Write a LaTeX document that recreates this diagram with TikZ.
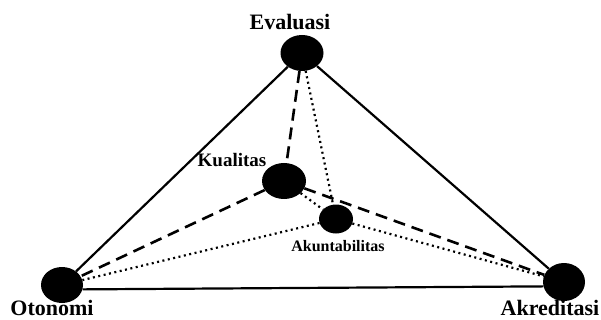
\documentclass[tikz,border=0pt]{standalone}
\usepackage{fontspec}
\setmainfont{Liberation Serif}
\usetikzlibrary{shapes.geometric}
\begin{document}
\begin{tikzpicture}[x=1pt,y=-1pt,
  dot/.style={ellipse, fill=black, inner sep=0pt},
  lbl/.style={font=\bfseries, inner sep=0pt},
  solidline/.style={line width=2.2pt},
  dashline/.style={line width=2.6pt, dash pattern=on 12pt off 7pt},
  dotline/.style={line width=2.2pt, dash pattern=on 2pt off 3.5pt}]
\useasboundingbox (0,0) rectangle (601,320);
\node[dot, minimum width=43pt, minimum height=36pt] (e) at (302,53) {};
\node[dot, minimum width=42pt, minimum height=36pt] (o) at (62,285) {};
\node[dot, minimum width=42pt, minimum height=38pt] (a) at (564,282) {};
\node[dot, minimum width=44pt, minimum height=36pt] (k) at (284,181) {};
\node[dot, minimum width=34pt, minimum height=29pt] (u) at (336,219) {};
% solid triangle
\draw[solidline] (e) -- (o);
\draw[solidline] (e) -- (a);
\draw[solidline] (o.-12) -- (a.-168);
% dashed
\draw[dashline] (e) -- (k);
\draw[dashline] (k) -- (o);
\draw[dashline] (k) -- (a);
% dotted
\draw[dotline] (e) -- (u);
\draw[dotline] (k) -- (u);
\draw[dotline] (u) -- (o);
\draw[dotline] (u) -- (a);
% labels
\node[lbl, font=\bfseries\fontsize{22}{24}\selectfont] (le) at (290,22) {Evaluasi};
\node[lbl, font=\bfseries\fontsize{19}{21}\selectfont] (lk) at (232,160) {Kualitas};
\node[lbl, font=\bfseries\fontsize{16}{18}\selectfont] (lu) at (338,246) {Akuntabilitas};
\node[lbl, font=\bfseries\fontsize{22}{24}\selectfont] (lo) at (52,308) {Otonomi};
\node[lbl, font=\bfseries\fontsize{22}{24}\selectfont] (la) at (550,308) {Akreditasi};
\end{tikzpicture}
\end{document}
